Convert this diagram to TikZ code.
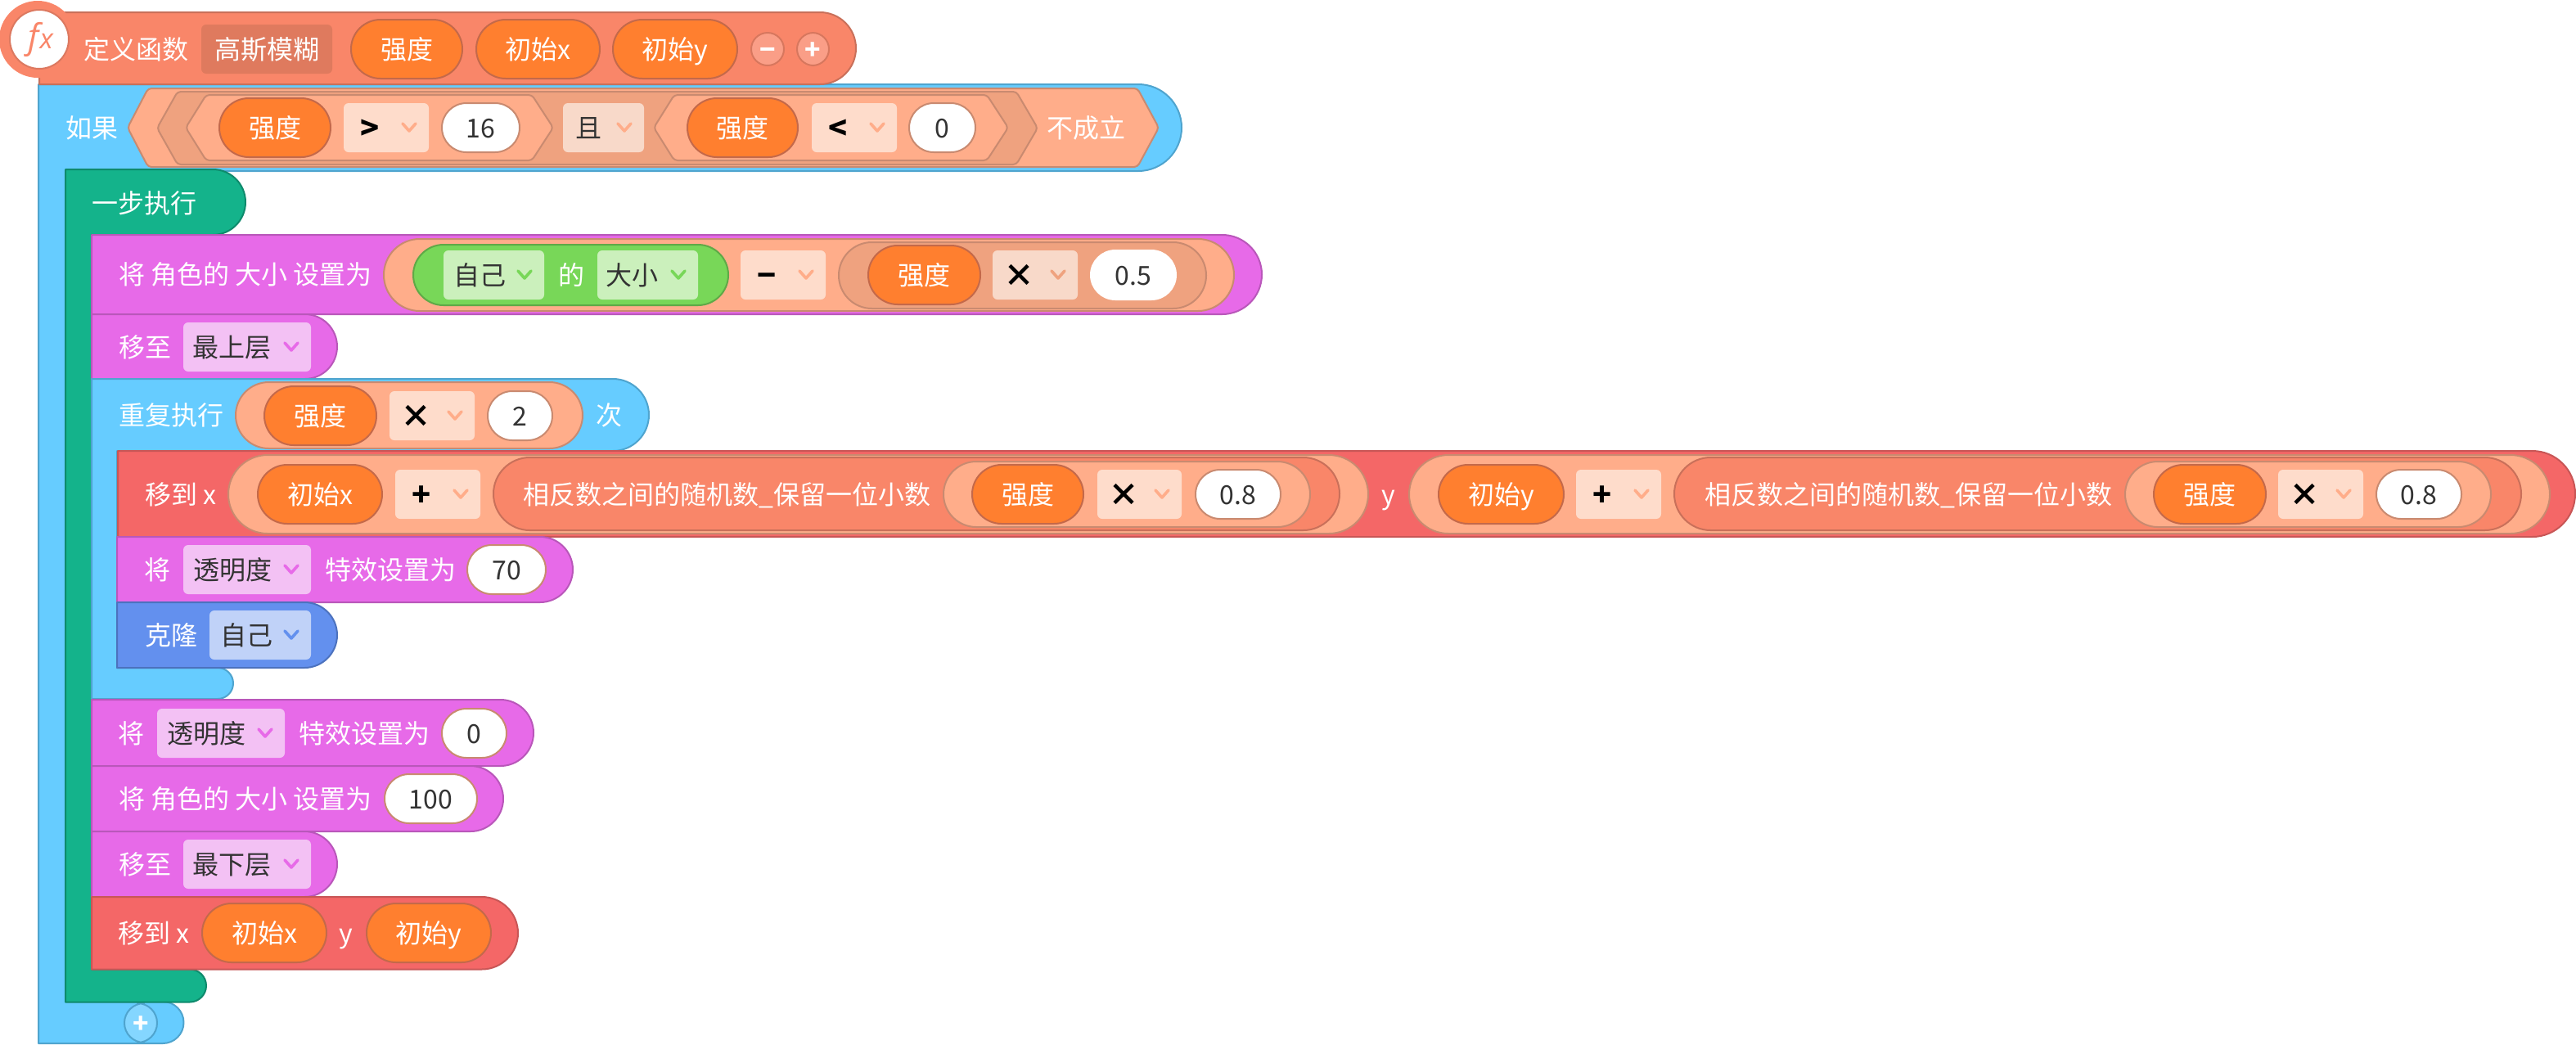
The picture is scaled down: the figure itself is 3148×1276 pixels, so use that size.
\documentclass[tikz,border=0pt]{standalone}
\usepackage{fontspec}
\setmainfont{Noto Sans CJK SC}
\newfontfamily\fxfont{Open Sans}
\definecolor{salmon}{HTML}{F98669}
\definecolor{salmonB}{HTML}{C9705A}
\definecolor{salmonD}{HTML}{DF7A5E}
\definecolor{peach}{HTML}{FFAD8A}
\definecolor{peachB}{HTML}{C98A70}
\definecolor{peachD}{HTML}{EFA27F}
\definecolor{orange}{HTML}{FF7F2F}
\definecolor{orangeB}{HTML}{C4694A}
\definecolor{ddpeach}{HTML}{FEDCCB}
\definecolor{ddpeachB}{HTML}{F8D9C9}
\definecolor{skyb}{HTML}{66CCFF}
\definecolor{skybL}{HTML}{84D6FF}
\definecolor{skybB}{HTML}{4FA4CE}
\definecolor{teal}{HTML}{14B38B}
\definecolor{tealB}{HTML}{0E8A6C}
\definecolor{pink}{HTML}{E76AE8}
\definecolor{pinkB}{HTML}{B957BA}
\definecolor{ddpink}{HTML}{F3C1F4}
\definecolor{redb}{HTML}{F46767}
\definecolor{redbB}{HTML}{C85656}
\definecolor{blueb}{HTML}{6390EE}
\definecolor{bluebB}{HTML}{4C72BE}
\definecolor{ddblue}{HTML}{C0D2F8}
\definecolor{grn}{HTML}{78D758}
\definecolor{grnB}{HTML}{5FA947}
\definecolor{ddgrn}{HTML}{CBF0BC}
\definecolor{txtdark}{HTML}{333333}
\newcount\nn
\tikzset{
  lbl/.style={inner sep=0pt,text height=14pt,text depth=2pt,font=\fontsize{16}{16}\selectfont},
  wlbl/.style={lbl,text=white},
  dlbl/.style={lbl,text=txtdark},
  oplbl/.style={inner sep=0pt,text=black,text height=15pt,text depth=1pt,font=\fontsize{19}{19}\selectfont\bfseries},
  chev/.style={line width=1.8pt,line cap=round,line join=round},
  blk/.style={line width=1pt,line join=round},
}
% autonamed text: x y text
\newcommand{\wt}[3]{\global\advance\nn by 1\node[wlbl] (t\the\nn) at (#1,#2) {#3};}
\newcommand{\wl}[3]{\global\advance\nn by 1\node[wlbl,anchor=west] (t\the\nn) at (#1,#2) {#3};}
\newcommand{\dt}[3]{\global\advance\nn by 1\node[dlbl] (t\the\nn) at (#1,#2) {#3};}
% row: fill border x1 y1 x2 y2
\newcommand{\rowb}[6]{\pgfmathsetmacro\rr{(#6-#4)/2}\pgfmathsetmacro\xa{#5-\rr}
  \draw[blk,fill=#1,draw=#2] (#3,#4) -- (\xa,#4) arc[start angle=-90,end angle=90,radius=\rr] -- (#3,#6) -- cycle;}
% pill: fill border x1 y1 x2 y2
\newcommand{\pill}[6]{\pgfmathsetmacro\rr{(#6-#4)/4}
  \draw[blk,fill=#1,draw=#2,rounded corners=\rr pt] (#3,#4) rectangle (#5,#6);}
% orange variable: x1 y1 x2 y2 text
\newcommand{\var}[5]{\pill{orange}{orangeB}{#1}{#2}{#3}{#4}\pgfmathsetmacro\xc{(#1+#3)/2}\pgfmathsetmacro\yc{(#2+#4)/2}\wt{\xc}{\yc}{#5}}
% input: x1 y1 x2 y2 text
\newcommand{\inp}[5]{\pill{white}{peachB}{#1}{#2}{#3}{#4}\pgfmathsetmacro\xc{(#1+#3)/2}\pgfmathsetmacro\yc{(#2+#4)/2}\dt{\xc}{\yc}{#5}}
% chevron: colour x y
\newcommand{\cvn}[3]{\draw[chev,draw=#1] ({#2-8},{#3-5}) -- (#2,{#3+4}) -- ({#2+8},{#3-5});}
% dropdown box: fill x1 y1 x2 y2
\newcommand{\ddb}[5]{\fill[fill=#1,rounded corners=3pt] (#2,#3) rectangle (#4,#5);}
% text dropdown: fill chevcolor x1 y1 x2 y2 textcentre text
\newcommand{\ddt}[8]{\ddb{#1}{#3}{#4}{#5}{#6}\pgfmathsetmacro\yc{(#4+#6)/2}\dt{#7}{\yc}{#8}\cvn{#2}{#5-24}{\yc}}
% operator dropdown: fill chevron x1 y1 x2 y2 op
\newcommand{\opd}[7]{\ddb{#1}{#3}{#4}{#5}{#6}\pgfmathsetmacro\yc{(#4+#6)/2}\pgfmathsetmacro\xc{#3+32}\global\advance\nn by 1\node[oplbl] (t\the\nn) at (\xc,\yc) {#7};\cvn{#2}{#5-24}{\yc}}
\newcommand{\hexa}[6]{\pgfmathsetmacro\ym{(#4+#6)/2}
  \draw[blk,fill=#1,draw=#2,rounded corners=2pt] (#3,\ym) -- ({#3+25},#4) -- ({#5-26},#4) -- (#5,\ym) -- ({#5-26},#6) -- ({#3+25},#6) -- cycle;}
\begin{document}
\begin{tikzpicture}[x=0.5pt,y=-0.5pt]
\useasboundingbox (0,0) rectangle (3148,1276);
% outer if C-shape
\draw[blk,fill=skyb,draw=skybB] (47,103) -- (1391,103) arc[start angle=-90,end angle=90,radius=53] -- (80,209) -- (80,1224) -- (199,1224) arc[start angle=-90,end angle=90,radius=25.5] -- (47,1275) -- cycle;
% bottom plus
\pill{skybL}{skybB}{152}{1226}{192}{1274}
% header
\rowb{salmon}{salmonB}{48}{15}{1046}{103}
\fill[salmon] (46,48) circle[radius=47];
\draw[line width=1pt,fill=white,draw=salmonB!60!salmon] (48,48) circle[radius=36];
\node[anchor=base west,inner sep=0pt,text=salmon,font=\fontsize{21}{21}\selectfont\fxfont\itshape] (fx) at (34,59) {f\kern0.5pt\fontsize{17}{17}\selectfont x};
\wt{166}{60}{定义函数}
\fill[salmonD,rounded corners=3pt] (246,30) rectangle (406,90);
\wt{326}{60}{高斯模糊}
\var{429}{24}{565}{96}{强度}
\var{582}{24}{733}{96}{初始x}
\var{749}{24}{901}{96}{初始y}
\pill{salmon!80!white}{salmonB!70!salmon}{918}{40}{958}{80}
\wt{938}{60}{\bfseries −}
\pill{salmon!80!white}{salmonB!70!salmon}{974}{40}{1013}{80}
\wt{993}{60}{\bfseries +}
\wt{112}{156}{如果}
% condition hexagons
\hexa{peach}{peachB}{156}{108}{1416}{204}
\wt{1327}{156}{不成立}
\hexa{peachD}{peachB}{192}{112}{1268}{201}
\hexa{peach}{peachB}{227}{116}{676}{196}
\var{268}{120}{404}{192}{强度}
\opd{ddpeach}{peach}{420}{126}{524}{186}{>}
\inp{540}{126}{635}{186}{16}
\ddt{ddpeachB}{peach}{688}{126}{787}{186}{719}{且}
\hexa{peach}{peachB}{799}{116}{1232}{196}
\var{840}{120}{975}{192}{强度}
\opd{ddpeach}{peach}{992}{126}{1096}{186}{<}
\inp{1111}{126}{1192}{186}{0}
% step C-shape
\draw[blk,fill=teal,draw=tealB] (80,207) -- (260,207) arc[start angle=-90,end angle=90,radius=40] -- (112,287) -- (112,1184.5) -- (232,1184.5) arc[start angle=-90,end angle=90,radius=20] -- (80,1224.5) -- cycle;
\wl{112}{248}{一步执行}
% set size
\rowb{pink}{pinkB}{112}{287}{1542}{384}
\wl{145}{335}{将 角色的 大小 设置为}
\pill{peach}{peachB}{469}{292}{1508}{380}
\pill{grn}{grnB}{505}{299}{890}{373}
\ddt{ddgrn}{grn}{542}{306}{665}{366}{586}{自己}
\wt{698}{336}{的}
\ddt{ddgrn}{grn}{730}{306}{853}{366}{772}{大小}
\opd{ddpeach}{peach}{905}{306}{1009}{366}{−}
\pill{peachD}{peachB}{1025}{296}{1474}{377}
\var{1061}{300}{1198}{372}{强度}
\opd{ddpeachB}{peachD}{1213}{306}{1317}{366}{×}
\pill{white}{white}{1333}{306}{1437}{366}
\dt{1385}{336}{0.5}
% move top
\rowb{pink}{pinkB}{112}{384}{412}{463}
\wl{145}{424}{移至}
\ddt{ddpink}{pink}{224}{394}{380}{454}{283}{最上层}
% repeat C-shape
\draw[blk,fill=skyb,draw=skybB] (112,463) -- (749,463) arc[start angle=-90,end angle=90,radius=44] -- (143,551) -- (143,816) -- (266,816) arc[start angle=-90,end angle=90,radius=19] -- (112,854) -- cycle;
\wl{145}{507}{重复执行}
\pill{peach}{peachB}{288}{467}{712}{548}
\var{323}{472}{460}{544}{强度}
\opd{ddpeach}{peach}{476}{478}{580}{538}{×}
\inp{596}{478}{675}{538}{2}
\wt{744}{507}{次}
% goto row
\rowb{redb}{redbB}{144}{551}{3147}{656}
\wl{177}{604}{移到 x}
\pill{peach}{peachB}{279}{556}{1672}{652}
\var{315}{568}{467}{640}{初始x}
\opd{ddpeach}{peach}{483}{574}{587}{634}{+}
\pill{salmon}{salmonB}{603}{559}{1637}{648}
\wl{639}{604}{相反数之间的随机数\_保留一位小数}
\pill{peach}{peachB}{1153}{564}{1601}{644}
\var{1188}{568}{1324}{640}{强度}
\opd{ddpeach}{peach}{1341}{574}{1444}{634}{×}
\inp{1461}{574}{1565}{634}{0.8}
\wt{1697}{604}{y}
\pill{peach}{peachB}{1722}{556}{3116}{652}
\var{1758}{568}{1911}{640}{初始y}
\opd{ddpeach}{peach}{1926}{574}{2030}{634}{+}
\pill{salmon}{salmonB}{2046}{559}{3081}{648}
\wl{2083}{604}{相反数之间的随机数\_保留一位小数}
\pill{peach}{peachB}{2597}{564}{3044}{644}
\var{2632}{568}{2769}{640}{强度}
\opd{ddpeach}{peach}{2784}{574}{2888}{634}{×}
\inp{2904}{574}{3008}{634}{0.8}
% transparency 70
\rowb{pink}{pinkB}{143}{656}{700}{736}
\wt{192}{696}{将}
\ddt{ddpink}{pink}{224}{666}{380}{726}{284}{透明度}
\wl{397}{696}{特效设置为}
\inp{571}{666}{667}{726}{70}
% clone
\rowb{blueb}{bluebB}{143}{736}{412}{816}
\wl{177}{776}{克隆}
\ddt{ddblue}{blueb}{256}{746}{380}{806}{301}{自己}
% transparency 0
\rowb{pink}{pinkB}{112}{855}{652}{936}
\wt{160}{896}{将}
\ddt{ddpink}{pink}{192}{866}{348}{926}{252}{透明度}
\wl{365}{896}{特效设置为}
\inp{540}{866}{619}{926}{0}
% size 100
\rowb{pink}{pinkB}{112}{936}{615}{1016}
\wl{145}{976}{将 角色的 大小 设置为}
\inp{470}{946}{583}{1006}{100}
% bottom layer
\rowb{pink}{pinkB}{112}{1016}{412}{1096}
\wl{145}{1056}{移至}
\ddt{ddpink}{pink}{224}{1026}{380}{1086}{283}{最下层}
% goto final
\rowb{redb}{redbB}{112}{1096}{633}{1184.5}
\wl{144}{1140}{移到 x}
\var{247}{1104}{399}{1176}{初始x}
\wt{423}{1140}{y}
\var{448}{1104}{600}{1176}{初始y}
\wt{172}{1250}{\bfseries +}
\end{tikzpicture}
\end{document}
